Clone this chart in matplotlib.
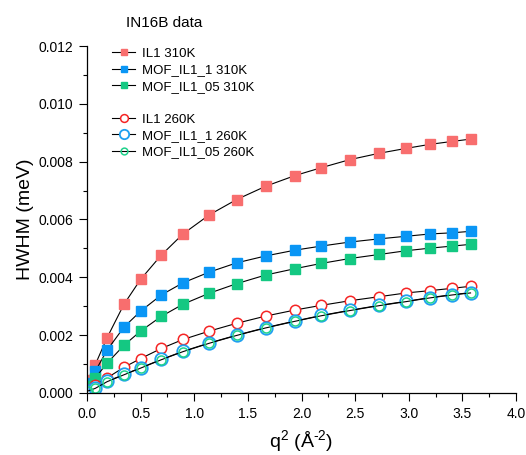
import numpy as np
import matplotlib
matplotlib.use("Agg")
import matplotlib.pyplot as plt
from matplotlib.lines import Line2D
from matplotlib import rcParams

rcParams['font.family'] = ['Liberation Sans', 'DejaVu Sans']
rcParams['mathtext.fontset'] = 'custom'
rcParams['mathtext.rm'] = 'Liberation Sans'
rcParams['mathtext.it'] = 'Liberation Sans'
rcParams['xtick.direction'] = 'out'
rcParams['ytick.direction'] = 'out'

# q^2 values (A^-2)
q2 = [0.01, 0.077, 0.187, 0.345, 0.50, 0.693, 0.895, 1.14, 1.395, 1.666,
      1.94, 2.183, 2.45, 2.724, 2.976, 3.20, 3.405, 3.576]

# HWHM (meV)
il1_310 = [0.00046, 0.00098, 0.00191, 0.00307, 0.00393, 0.00477, 0.00550, 0.00616, 0.00669,
           0.00715, 0.00752, 0.00779, 0.00807, 0.00829, 0.00846, 0.00860, 0.00870, 0.00878]
mof1_310 = [0.00035, 0.00075, 0.00148, 0.00228, 0.00283, 0.00339, 0.00381, 0.00418, 0.00450,
            0.00474, 0.00494, 0.00508, 0.00522, 0.00533, 0.00542, 0.00550, 0.00554, 0.00559]
mof05_310 = [0.00023, 0.00052, 0.00103, 0.00165, 0.00214, 0.00265, 0.00307, 0.00345, 0.00378,
             0.00408, 0.00430, 0.00448, 0.00465, 0.00479, 0.00492, 0.00501, 0.00508, 0.00514]
il1_260 = [0.00012, 0.00029, 0.00052, 0.00089, 0.00119, 0.00154, 0.00185, 0.00214, 0.00241,
           0.00266, 0.00287, 0.00303, 0.00319, 0.00333, 0.00346, 0.00354, 0.00362, 0.00369]
mof1_260 = [0.00008, 0.00017, 0.00040, 0.00064, 0.00087, 0.00116, 0.00144, 0.00173, 0.00200,
            0.00226, 0.00249, 0.00268, 0.00286, 0.00303, 0.00317, 0.00330, 0.00340, 0.00347]
mof05_260 = [0.00007, 0.00016, 0.00039, 0.00063, 0.00086, 0.00115, 0.00143, 0.00172, 0.00199,
             0.00225, 0.00248, 0.00267, 0.00285, 0.00302, 0.00316, 0.00329, 0.00339, 0.00346]

fig = plt.figure(figsize=(5.26, 4.55), dpi=100)
ax = fig.add_axes([0.1654, 0.1363, 0.8156, 0.7626])

lw = 0.8
h1, = ax.plot(q2, il1_310, '-s', color='black', lw=lw, mfc='#F86E6E', mec='#F86E6E', ms=6.5,
              label='IL1 310K')
h2, = ax.plot(q2, mof1_310, '-s', color='black', lw=lw, mfc='#0A96F5', mec='#0A96F5', ms=6.5,
              label='MOF_IL1_1 310K')
h3, = ax.plot(q2, mof05_310, '-s', color='black', lw=lw, mfc='#14C882', mec='#14C882', ms=6.5,
              label='MOF_IL1_05 310K')
h4, = ax.plot(q2, il1_260, '-o', color='black', lw=lw, mfc='white', mec='#F52525', mew=1.1, ms=7.5,
              label='IL1 260K')
h5, = ax.plot(q2, mof1_260, '-o', color='black', lw=lw, mfc='white', mec='#1EA0F0', mew=1.3, ms=9,
              label='MOF_IL1_1 260K')
h6, = ax.plot(q2, mof05_260, '-o', color='black', lw=lw, mfc='none', mec='#20D28C', mew=1.1, ms=6.5,
              label='MOF_IL1_05 260K')

blank = Line2D([], [], color='none', label=' ')
ax.legend(handles=[h1, h2, h3, blank, h4, h5, h6], loc='upper left',
          bbox_to_anchor=(0.03, 1.03), frameon=False, fontsize=9.5,
          handlelength=1.8, handletextpad=0.5, labelspacing=0.32, markerscale=0.75)

ax.set_xlim(0, 4.0)
ax.set_ylim(0, 0.012)
ax.set_xticks(np.arange(0, 4.01, 0.5))
ax.set_xticks(np.arange(0.25, 4.0, 0.5), minor=True)
ax.set_yticks(np.arange(0, 0.01201, 0.002))
ax.set_yticks(np.arange(0.001, 0.012, 0.002), minor=True)
ax.set_xticklabels([f'{v:.1f}' for v in np.arange(0, 4.01, 0.5)])
ax.set_yticklabels([f'{v:.3f}' for v in np.arange(0, 0.01201, 0.002)])
ax.tick_params(which='major', length=6, width=0.8, labelsize=10, pad=4)
ax.tick_params(which='minor', length=3, width=0.8)
ax.spines['top'].set_visible(False)
ax.spines['right'].set_visible(False)
ax.spines['left'].set_linewidth(0.9)
ax.spines['bottom'].set_linewidth(0.9)

ax.set_xlabel(r'q$^{\text{2}}$ (Å$^{\text{-2}}$)', fontsize=14, labelpad=5)
ax.set_ylabel('HWHM (meV)', fontsize=14, labelpad=3)

fig.text(0.312, 0.95, 'IN16B data', fontsize=11, ha='center', va='center')

fig.savefig('out.png', dpi=100, facecolor='white')
